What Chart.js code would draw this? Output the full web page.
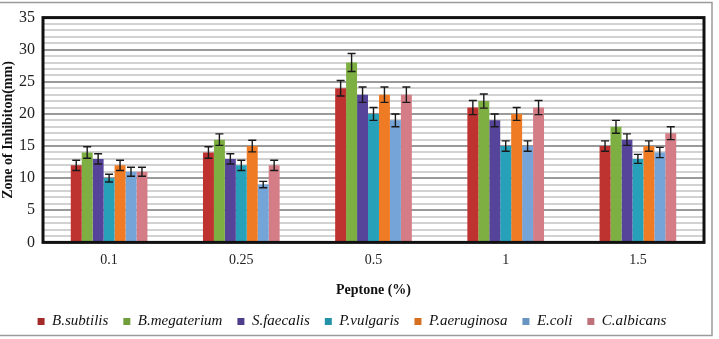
<!DOCTYPE html>
<html>
<head>
<meta charset="utf-8">
<script src="https://cdn.jsdelivr.net/npm/chart.js@4"></script>
<style>
  html, body { margin: 0; padding: 0; background: #fff; }
  #wrap { width: 719px; height: 339px; position: relative; }
</style>
</head>
<body>
<div id="wrap"><canvas id="myChart" width="719" height="339"></canvas></div>
<script>
var peptone = ['0.1', '0.25', '0.5', '1', '1.5'];
var organisms = ['B.subtilis', 'B.megaterium', 'S.faecalis', 'P.vulgaris', 'P.aeruginosa', 'E.coli', 'C.albicans'];
var colors = ['#BE3330', '#7DAF42', '#56449A', '#27A1BA', '#EF7B25', '#74A4D8', '#D47D86'];

var bSubtilis = [12, 14, 24, 21, 15];
var bMegaterium = [14, 16, 28, 22, 18];
var sFaecalis = [13, 13, 23, 19, 16];
var pVulgaris = [10, 12, 20, 15, 13];
var pAeruginosa = [12, 15, 23, 20, 15];
var eColi = [11, 9, 19, 15, 14];
var cAlbicans = [11, 12, 23, 21, 17];

var errSubtilis = [0.8, 0.9, 1.2, 1.1, 0.8];
var errMegaterium = [0.9, 0.9, 1.4, 1.1, 1.0];
var errFaecalis = [0.8, 0.8, 1.2, 1.0, 0.9];
var errVulgaris = [0.6, 0.8, 1.0, 0.8, 0.7];
var errAeruginosa = [0.8, 0.9, 1.2, 1.0, 0.8];
var errColi = [0.7, 0.5, 1.0, 0.8, 0.8];
var errAlbicans = [0.7, 0.8, 1.2, 1.1, 1.0];

var values = [bSubtilis, bMegaterium, sFaecalis, pVulgaris, pAeruginosa, eColi, cAlbicans];
var errors = [errSubtilis, errMegaterium, errFaecalis, errVulgaris, errAeruginosa, errColi, errAlbicans];

var serif = "'Liberation Serif', 'DejaVu Serif', serif";

// shaded bars: darker at the edges, lighter in the middle
function shade(hex, f) {
    var n = parseInt(hex.slice(1), 16);
    var r = (n >> 16) & 255, g = (n >> 8) & 255, b = n & 255;
    if (f < 0) { r = r * (1 + f); g = g * (1 + f); b = b * (1 + f); }
    else { r = r + (255 - r) * f; g = g + (255 - g) * f; b = b + (255 - b) * f; }
    return 'rgb(' + Math.round(r) + ',' + Math.round(g) + ',' + Math.round(b) + ')';
}
function barFill(i) {
    return function (context) {
        var el = context.element;
        var ctx = context.chart.ctx;
        if (!el || el.width === undefined || isNaN(el.x)) return colors[i];
        var x0 = el.x - el.width / 2, x1 = el.x + el.width / 2;
        var g = ctx.createLinearGradient(x0, 0, x1, 0);
        g.addColorStop(0, shade(colors[i], -0.15));
        g.addColorStop(0.45, shade(colors[i], 0.12));
        g.addColorStop(1, shade(colors[i], -0.1));
        return g;
    };
}

var datasets = organisms.map(function (name, i) {
    return {
        label: name,
        data: values[i],
        errors: errors[i],
        backgroundColor: barFill(i),
        borderWidth: 0,
        barPercentage: 1.0,
        categoryPercentage: 0.58
    };
});

var frameAndErrors = {
    id: 'frameAndErrors',
    beforeDraw: function (chart) {
        var ctx = chart.ctx;
        ctx.save();
        ctx.strokeStyle = '#9a9a9a';
        ctx.lineWidth = 1.5;
        ctx.strokeRect(-5, 2.5, 717, 333);
        ctx.restore();
    },
    afterDatasetsDraw: function (chart) {
        var ctx = chart.ctx;
        var y = chart.scales.y;
        ctx.save();
        ctx.strokeStyle = '#1a1a1a';
        ctx.lineWidth = 1.4;
        chart.data.datasets.forEach(function (ds, i) {
            var meta = chart.getDatasetMeta(i);
            meta.data.forEach(function (bar, j) {
                var v = ds.data[j], e = ds.errors[j];
                var top = y.getPixelForValue(v + e);
                var bot = y.getPixelForValue(v - e);
                var cx = bar.x;
                ctx.beginPath();
                ctx.moveTo(cx, top); ctx.lineTo(cx, bot);
                ctx.moveTo(cx - 4, top); ctx.lineTo(cx + 4, top);
                ctx.moveTo(cx - 4, bot); ctx.lineTo(cx + 4, bot);
                ctx.stroke();
            });
        });
        var a = chart.chartArea;
        ctx.strokeStyle = '#111';
        ctx.lineWidth = 3;
        ctx.strokeRect(a.left, a.top, a.right - a.left, a.bottom - a.top);
        ctx.restore();
    }
};

var ctx = document.getElementById('myChart').getContext('2d');
var myChart = new Chart(ctx, {
    type: 'bar',
    data: {
        labels: peptone,
        datasets: datasets
    },
    plugins: [frameAndErrors],
    options: {
        responsive: false,
        animation: false,
        layout: {
            padding: { left: 0, right: 15, top: 14, bottom: 0 }
        },
        plugins: {
            tooltip: { enabled: false },
            legend: {
                position: 'bottom',
                labels: {
                    boxWidth: 7,
                    boxHeight: 7,
                    padding: 15,
                    color: '#111',
                    font: { family: serif, size: 15, style: 'italic' }
                }
            }
        },
        scales: {
            x: {
                grid: { display: false, drawTicks: false },
                border: { display: false },
                ticks: {
                    color: '#222',
                    padding: 10,
                    font: { family: serif, size: 14 }
                },
                title: {
                    display: true,
                    text: 'Peptone (%)',
                    color: '#111',
                    padding: { top: 3, bottom: 0 },
                    font: { family: serif, size: 14, weight: 'bold' }
                }
            },
            y: {
                min: 0,
                max: 35,
                afterFit: function (scale) { scale.width = 43; },
                grid: {
                    drawTicks: false,
                    lineWidth: 2,
                    color: function (c) {
                        return c.tick && c.tick.value % 5 === 0 ? '#9a9a9a' : '#d2d2d2';
                    }
                },
                border: { display: false },
                ticks: {
                    stepSize: 1,
                    maxTicksLimit: 40,
                    autoSkip: false,
                    padding: 8,
                    color: '#222',
                    font: { family: serif, size: 16 },
                    callback: function (v) { return v % 5 === 0 ? v : ''; }
                },
                title: {
                    display: true,
                    text: 'Zone of Inhibiton(mm)',
                    color: '#111',
                    padding: 0,
                    font: { family: serif, size: 14, weight: 'bold' }
                }
            }
        }
    }
});
</script>
</body>
</html>
